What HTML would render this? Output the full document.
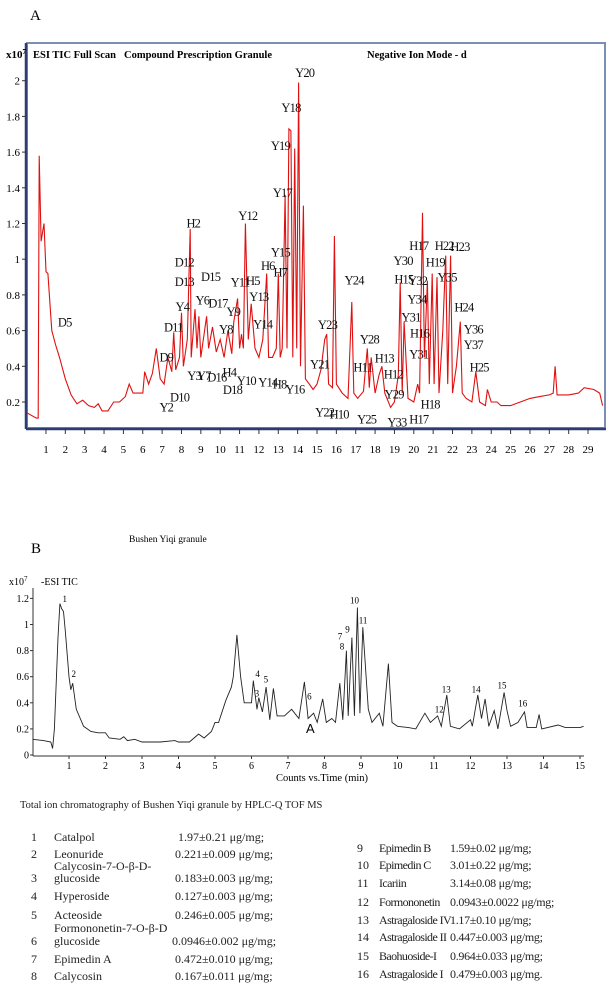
<!DOCTYPE html>
<html><head><meta charset="utf-8">
<style>
html,body{margin:0;padding:0;background:#fff;}
#wrap{position:relative;width:612px;height:991px;overflow:hidden;font-family:"Liberation Serif",serif;color:#222;}
svg{position:absolute;left:0;top:0;}
.t{position:absolute;font-size:12px;white-space:nowrap;}
.n2{font-size:12px;letter-spacing:-0.6px;}
.v2{font-size:12px;letter-spacing:-0.3px;}
</style></head>
<body>
<div id="wrap">
<svg id="svg" width="612" height="790" viewBox="0 0 612 790">
  <text x="30" y="20" font-size="15" font-family="Liberation Serif">A</text>
  <rect x="27" y="43" width="578" height="385" fill="none" stroke="#7b8fb5" stroke-width="2"/>
  <line x1="26" y1="43" x2="26" y2="429" stroke="#2b3d73" stroke-width="2.5"/>
  <line x1="26" y1="429" x2="606" y2="429" stroke="#2b3d73" stroke-width="2.5"/>
  <text x="6" y="58" font-size="11" font-family="Liberation Serif" font-weight="bold">x10<tspan dy="-4" font-size="7">7</tspan></text>
  <text x="33" y="58" font-size="10.5" font-family="Liberation Serif" font-weight="bold">ESI TIC  Full Scan</text>
  <text x="124" y="58" font-size="10.5" font-family="Liberation Serif" font-weight="bold">Compound Prescription Granule</text>
  <text x="367" y="58" font-size="10.5" font-family="Liberation Serif" font-weight="bold">Negative Ion  Mode - d</text>
  <g id="a-ticks"></g>
  <path id="a-line" fill="none" stroke="#e01010" stroke-width="1.1"/>
  <g id="a-labels"></g>

  <text x="31" y="553" font-size="15" font-family="Liberation Serif">B</text>
  <text x="129" y="542" font-size="9.5" font-family="Liberation Serif">Bushen Yiqi granule</text>
  <text x="9" y="585" font-size="10" font-family="Liberation Serif">x10<tspan dy="-4" font-size="7">7</tspan></text>
  <text x="41" y="585" font-size="10" font-family="Liberation Serif">-ESI TIC</text>
  <line x1="33" y1="588" x2="33" y2="756" stroke="#333" stroke-width="1"/>
  <line x1="33" y1="756" x2="584" y2="756" stroke="#333" stroke-width="1"/>
  <g id="b-ticks"></g>
  <path id="b-line" fill="none" stroke="#222" stroke-width="0.9"/>
  <g id="b-labels"></g>
  <text x="322" y="781" font-size="10.5" font-family="Liberation Serif" text-anchor="middle">Counts vs.Time (min)</text>
  <text x="306" y="733" font-size="13" font-family="Liberation Sans">A</text>
</svg>

<div class="t" style="left:20px;top:800px;font-size:10.5px">Total ion chromatography of Bushen Yiqi granule by HPLC-Q TOF MS</div>
<div id="tbl"></div>
</div>
<script>
// ---- Chart A data ----
const aTimes=[0,0.5,0.6,0.65,0.75,0.9,1.0,1.1,1.3,1.5,1.7,2.0,2.3,2.6,2.9,3.2,3.5,3.7,3.9,4.2,4.5,4.8,5.1,5.3,5.5,6.0,6.1,6.3,6.5,6.7,6.9,7.1,7.3,7.5,7.6,7.7,7.9,8.0,8.1,8.3,8.45,8.5,8.7,8.8,8.9,9.0,9.3,9.4,9.6,9.8,10.0,10.2,10.4,10.6,10.7,10.9,11.0,11.1,11.2,11.3,11.45,11.6,11.8,12.0,12.2,12.4,12.5,12.7,12.9,13.0,13.1,13.2,13.35,13.45,13.55,13.65,13.75,13.85,13.95,14.05,14.15,14.3,14.4,14.6,14.8,15.0,15.2,15.4,15.5,15.6,15.8,15.9,16.0,16.3,16.6,16.8,16.9,17.1,17.4,17.6,17.7,17.8,18.0,18.2,18.35,18.5,18.8,19.0,19.2,19.3,19.4,19.5,19.7,20.0,20.2,20.3,20.45,20.55,20.7,20.8,20.95,21.05,21.2,21.3,21.5,21.65,21.75,21.9,22.0,22.2,22.4,22.5,22.7,23.0,23.2,23.4,23.7,23.8,24.0,24.3,24.5,25.0,25.5,26.0,26.5,27.0,27.2,27.3,27.4,28.0,28.5,28.8,29.3,29.6,29.75];
const aValues=[0.14,0.11,0.11,1.58,1.1,1.2,0.93,0.92,0.6,0.52,0.45,0.33,0.24,0.19,0.21,0.18,0.17,0.19,0.15,0.15,0.2,0.2,0.23,0.3,0.25,0.25,0.37,0.3,0.36,0.5,0.33,0.3,0.45,0.37,0.59,0.38,0.45,0.7,0.4,0.55,1.17,0.45,0.72,0.5,0.68,0.45,0.68,0.5,0.62,0.48,0.55,0.45,0.6,0.47,0.65,0.78,0.5,0.58,0.5,1.2,0.55,0.75,0.5,0.45,0.55,0.92,0.45,0.45,0.5,0.92,0.45,0.5,1.36,0.5,1.73,1.72,0.45,1.62,0.5,1.99,0.4,1.3,0.33,0.3,0.27,0.3,0.38,0.55,0.58,0.3,0.28,1.13,0.3,0.25,0.22,0.76,0.25,0.22,0.26,0.5,0.28,0.45,0.25,0.35,0.4,0.25,0.17,0.2,0.35,0.87,0.25,0.65,0.22,0.2,0.3,0.25,1.26,0.45,0.88,0.3,0.92,0.3,0.9,0.25,0.6,1.02,0.3,1.02,0.25,0.4,0.65,0.25,0.22,0.2,0.37,0.2,0.18,0.27,0.2,0.2,0.18,0.18,0.2,0.22,0.23,0.24,0.25,0.4,0.24,0.24,0.25,0.28,0.27,0.25,0.18];
const aYTicks=[0.2,0.4,0.6,0.8,1,1.2,1.4,1.6,1.8,2];
const aXTicks=[1,2,3,4,5,6,7,8,9,10,11,12,13,14,15,16,17,18,19,20,21,22,23,24,25,26,27,28,29];
const aLabels=[["D5",165,365],["H2",493,68],["Y12",632,45],["D12",470,185],["D13",470,243],["D15",537,228],["Y4",465,318],["Y6",516,298],["D17",556,308],["D11",442,380],["D9",424,470],["Y2",424,620],["D10",458,590],["Y3",495,525],["Y7",520,525],["D16",553,530],["H4",585,515],["D18",593,567],["Y10",628,540],["Y8",576,385],["Y9",595,333],["Y11",612,245],["H5",645,240],["Y13",660,288],["Y14",670,370],["Y14",683,545],["H8",713,550],["Y16",752,565],["H6",683,195],["Y15",715,155],["H7",715,215],["Y17",720,-24],["Y18",742,-279],["Y19",715,-165],["Y20",777,-384],["Y24",903,238],["Y23",835,372],["Y21",815,490],["Y22",828,635],["H10",865,640],["Y28",942,415],["H11",925,500],["H13",980,472],["H12",1003,520],["Y29",1005,580],["Y25",935,655],["Y33",1012,665],["Y30",1028,180],["H15",1030,235],["Y32",1065,240],["Y34",1063,295],["Y31",1048,350],["H16",1070,398],["Y31",1068,460],["H17",1068,135],["H19",1110,185],["Y35",1140,230],["H22",1133,135],["H23",1173,138],["H24",1183,320],["Y36",1207,385],["Y37",1207,432],["H25",1222,500],["H18",1097,610],["H17",1068,655]];

// ---- Chart B data ----
const bTimes=[0,0.3,0.5,0.55,0.6,0.7,0.75,0.8,0.85,0.9,1.0,1.05,1.1,1.2,1.4,1.6,1.8,2.0,2.1,2.4,2.5,2.6,2.8,3.0,3.5,3.9,4.0,4.3,4.55,4.7,4.9,5.0,5.1,5.3,5.45,5.5,5.6,5.7,5.8,6.0,6.05,6.15,6.2,6.3,6.4,6.5,6.6,6.7,6.9,7.1,7.3,7.45,7.55,7.7,7.8,7.95,8.05,8.2,8.3,8.42,8.5,8.6,8.65,8.75,8.82,8.9,8.97,9.05,9.2,9.3,9.5,9.6,9.75,9.85,10.0,10.3,10.5,10.75,10.9,11.1,11.2,11.35,11.45,11.7,12.0,12.05,12.2,12.3,12.4,12.5,12.65,12.75,12.92,13.0,13.1,13.3,13.48,13.55,13.8,13.88,13.95,14.4,14.6,15.0,15.1];
const bValues=[0.12,0.11,0.1,0.05,0.2,0.9,1.16,1.12,1.1,0.95,0.6,0.5,0.55,0.35,0.22,0.18,0.17,0.17,0.13,0.12,0.14,0.11,0.12,0.1,0.1,0.11,0.1,0.1,0.16,0.13,0.18,0.25,0.25,0.42,0.52,0.6,0.92,0.6,0.4,0.4,0.57,0.35,0.44,0.33,0.52,0.27,0.51,0.3,0.3,0.35,0.28,0.56,0.28,0.32,0.25,0.43,0.25,0.28,0.25,0.55,0.27,0.8,0.3,0.9,0.3,1.13,0.32,0.98,0.35,0.25,0.32,0.22,0.7,0.25,0.22,0.21,0.2,0.32,0.25,0.3,0.22,0.46,0.22,0.2,0.27,0.22,0.46,0.28,0.43,0.22,0.34,0.2,0.48,0.34,0.22,0.25,0.33,0.21,0.21,0.31,0.2,0.23,0.21,0.21,0.22];
const bYTicks=[0,0.2,0.4,0.6,0.8,1,1.2];
const bXTicks=[1,2,3,4,5,6,7,8,9,10,11,12,13,14,15];
const bLabels=[["1",165,237],["2",188,462],["3",655,520],["4",657,462],["5",678,478],["6",789,530],["7",867,350],["8",872,380],["9",886,328],["10",904,242],["11",926,302],["12",1120,568],["13",1138,508],["14",1214,508],["15",1280,497],["16",1333,550]];

const NS="http://www.w3.org/2000/svg";
const axX=t=>26.6+t*19.36, axY=v=>402-(v-0.2)*178.5;
const bxX=t=>32.5+t*36.5, bxY=v=>755-v*130.5;
function mk(tag,attrs,parent,txt){const e=document.createElementNS(NS,tag);for(const k in attrs)e.setAttribute(k,attrs[k]);if(txt!==undefined)e.textContent=txt;parent.appendChild(e);return e;}

document.getElementById('a-line').setAttribute('d',aTimes.map((t,i)=>(i?'L':'M')+axX(t).toFixed(1)+' '+axY(aValues[i]).toFixed(1)).join(''));
document.getElementById('b-line').setAttribute('d',bTimes.map((t,i)=>(i?'L':'M')+bxX(t).toFixed(1)+' '+bxY(bValues[i]).toFixed(1)).join(''));

const at=document.getElementById('a-ticks');
aYTicks.forEach(v=>{const y=axY(v);
 const l=mk('line',{x1:22,y1:y,x2:26,y2:y,stroke:'#333'},at);
 
 
 const tx=mk('text',{x:20,y:y+4,'font-size':11,'text-anchor':'end','font-family':'Liberation Serif'},at,String(v));
 
 });
aXTicks.forEach(t=>{const x=axX(t);
 const l=mk('line',{x1:x,y1:429,x2:x,y2:434,stroke:'#333'},at);
 
 
 const tx=mk('text',{x:x,y:453,'font-size':11,'text-anchor':'middle','font-family':'Liberation Serif'},at,String(t));
 
 });
const al=document.getElementById('a-labels');
aLabels.forEach(([s,x,y])=>{
 const tx=mk('text',{x:(x/2.55).toFixed(1),y:(200+y/3+5).toFixed(1),'font-size':12.5,'text-anchor':'middle','font-family':'Liberation Serif','letter-spacing':'-0.8',fill:'#111'},al,s);
 
 });

const bt=document.getElementById('b-ticks');
bYTicks.forEach(v=>{const y=bxY(v);
 const l=mk('line',{x1:30,y1:y,x2:33,y2:y,stroke:'#333'},bt);
 
 
 const tx=mk('text',{x:29,y:y+3.5,'font-size':10,'text-anchor':'end','font-family':'Liberation Serif'},bt,String(v));
 
 });
bXTicks.forEach(t=>{const x=bxX(t);
 const l=mk('line',{x1:x,y1:756,x2:x,y2:759,stroke:'#333'},bt);
 
 
 const tx=mk('text',{x:x,y:769,'font-size':10,'text-anchor':'middle','font-family':'Liberation Serif'},bt,String(t));
 
 });
const bl=document.getElementById('b-labels');
bLabels.forEach(([s,x,y])=>{
 const tx=mk('text',{x:(x/2.55).toFixed(1),y:(520+y/3+3).toFixed(1),'font-size':9,'text-anchor':'middle','font-family':'Liberation Serif'},bl,s);
 
 });

// ---- Table ----
const rows=[
 [31,54,178,839,"1","Catalpol","1.97±0.21 μg/mg;"],
 [31,54,175,856,"2","Leonuride","0.221±0.009 μg/mg;"],
 [31,54,0,868,"","Calycosin-7-O-β-D-",""],
 [31,54,175,880,"3","glucoside","0.183±0.003 μg/mg;"],
 [31,54,175,898,"4","Hyperoside","0.127±0.003 μg/mg;"],
 [31,54,175,917,"5","Acteoside","0.246±0.005 μg/mg;"],
 [31,54,0,930,"","Formononetin-7-O-β-D",""],
 [31,54,172,943,"6","glucoside","0.0946±0.002 μg/mg;"],
 [31,54,175,961,"7","Epimedin A","0.472±0.010 μg/mg;"],
 [31,54,175,978,"8","Calycosin","0.167±0.011 μg/mg;"],
 [357,379,450,850,"9","Epimedin B","1.59±0.02  μg/mg;"],
 [357,379,450,867,"10","Epimedin C","3.01±0.22 μg/mg;"],
 [357,379,450,885,"11","Icariin","3.14±0.08 μg/mg;"],
 [357,379,450,904,"12","Formononetin","0.0943±0.0022 μg/mg;"],
 [357,379,450,922,"13","Astragaloside IV","1.17±0.10 μg/mg;"],
 [357,379,450,939,"14","Astragaloside II","0.447±0.003 μg/mg;"],
 [357,379,450,958,"15","Baohuoside-I","0.964±0.033 μg/mg;"],
 [357,379,450,976,"16","Astragaloside I","0.479±0.003 μg/mg."]];
const tbl=document.getElementById('tbl');
rows.forEach(r=>{
 const [nx,tx,vx,y,n,name,val]=r;
 const right=nx>300;
 [[nx,n,'table-row-number',''],[tx,name,'table-compound-name',right?' n2':''],[vx,val,'table-content-value',right?' v2':'']].forEach(([x,s,nm,cls])=>{
  if(!s)return;
  const d=document.createElement('div');d.className='t'+cls;
  d.style.left=x+'px';d.style.top=(y-9)+'px';d.textContent=s;
  
  
  tbl.appendChild(d);});
});
</script>
</body></html>
